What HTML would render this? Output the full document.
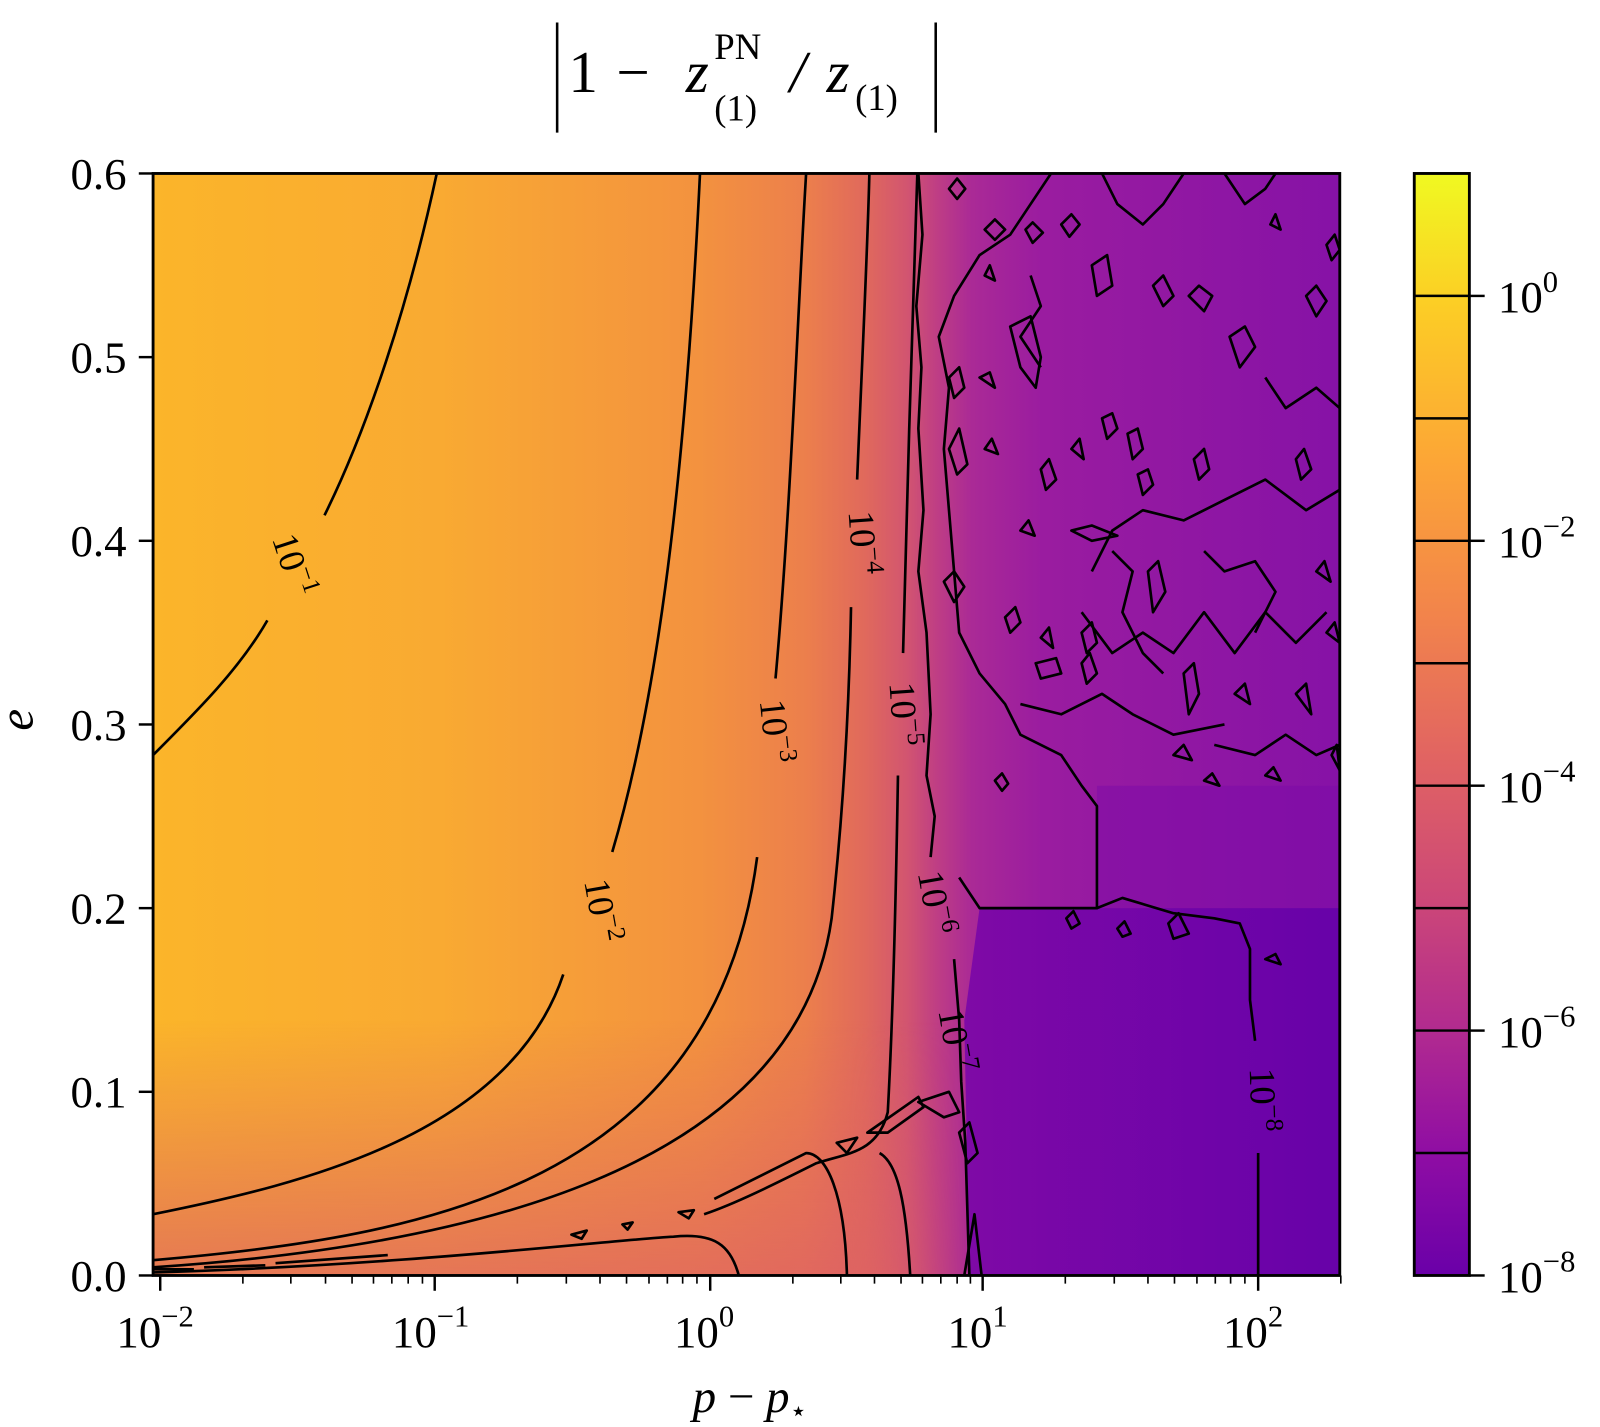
<!DOCTYPE html>
<html><head><meta charset="utf-8"><style>
html,body{margin:0;padding:0;background:#fff;}
svg{display:block;}
text{font-family:"Liberation Serif","DejaVu Serif",serif;fill:#000;}
</style></head><body>
<svg width="1600" height="1427" viewBox="0 0 1568 1398.5" xmlns="http://www.w3.org/2000/svg">
<defs>
<linearGradient id="bg" x1="150" y1="0" x2="1313" y2="0" gradientUnits="userSpaceOnUse">
<stop offset="0" stop-color="#fbb52a"/>
<stop offset="0.24" stop-color="#f9aa32"/>
<stop offset="0.46" stop-color="#f3923f"/>
<stop offset="0.55" stop-color="#ec7f4c"/>
<stop offset="0.6" stop-color="#e0695c"/>
<stop offset="0.635" stop-color="#d25570"/>
<stop offset="0.66" stop-color="#bf3e84"/>
<stop offset="0.69" stop-color="#aa2a96"/>
<stop offset="0.75" stop-color="#9a1ca0"/>
<stop offset="1" stop-color="#8612a6"/>
</linearGradient>
<linearGradient id="bot" x1="0" y1="1000" x2="0" y2="1250" gradientUnits="userSpaceOnUse">
<stop offset="0" stop-color="#dc5f66" stop-opacity="0"/>
<stop offset="1" stop-color="#dc5f66" stop-opacity="0.7"/>
</linearGradient>
<linearGradient id="botx" x1="150" y1="0" x2="950" y2="0" gradientUnits="userSpaceOnUse">
<stop offset="0" stop-color="#fff" stop-opacity="1"/>
<stop offset="0.85" stop-color="#fff" stop-opacity="1"/>
<stop offset="1" stop-color="#fff" stop-opacity="0"/>
</linearGradient>
<mask id="bm"><rect x="150" y="900" width="800" height="350" fill="url(#botx)"/></mask>
<linearGradient id="lr" x1="940" y1="0" x2="1313" y2="0" gradientUnits="userSpaceOnUse">
<stop offset="0" stop-color="#7a06a8"/>
<stop offset="1" stop-color="#6400a8"/>
</linearGradient>
<linearGradient id="cb" x1="0" y1="170" x2="0" y2="1250" gradientUnits="userSpaceOnUse">
<stop offset="0" stop-color="#f0f921"/>
<stop offset="0.12" stop-color="#fccd25"/>
<stop offset="0.26" stop-color="#fca636"/>
<stop offset="0.4" stop-color="#f2844b"/>
<stop offset="0.53" stop-color="#e16462"/>
<stop offset="0.66" stop-color="#cc4778"/>
<stop offset="0.78" stop-color="#b12a90"/>
<stop offset="0.89" stop-color="#8f0da4"/>
<stop offset="1" stop-color="#6a00a8"/>
</linearGradient>
<clipPath id="pc"><rect x="150" y="170" width="1163" height="1080"/></clipPath>
</defs>

<!-- title -->
<line x1="546" y1="22" x2="546" y2="130" stroke="#000" stroke-width="2.5"/>
<line x1="917" y1="22" x2="917" y2="130" stroke="#000" stroke-width="2.5"/>
<text x="557" y="90" font-size="58">1</text>
<text x="604" y="90" font-size="58">−</text>
<text x="672" y="90" font-size="58" font-style="italic">z</text>
<text x="700" y="58" font-size="36">PN</text>
<text x="700" y="118" font-size="36">(1)</text>
<text x="774" y="90" font-size="58" font-style="italic">/</text>
<text x="810" y="90" font-size="58" font-style="italic">z</text>
<text x="838" y="108" font-size="36">(1)</text>

<!-- plot background -->
<g clip-path="url(#pc)">
<rect x="150" y="170" width="1163" height="1080" fill="url(#bg)"/>
<rect x="150" y="900" width="800" height="350" fill="url(#bot)" mask="url(#bm)"/>
<path d="M1075,770 L1313,770 L1313,890 L1075,890 Z" fill="#7c0aa8" opacity="0.5"/>
<path d="M960,890 L1313,890 L1313,1250 L950,1250 L945,1000 Z" fill="url(#lr)" opacity="0.9"/>

<g fill="none" stroke="#000" stroke-width="2.6" stroke-linejoin="round">
<!-- 1e-1 -->
<path d="M150,740 C195,695 235,655 262,608"/>
<path d="M318,505 C360,420 400,300 428,170"/>
<!-- 1e-2 -->
<path d="M150,1190 C300,1160 500,1110 552,955"/>
<path d="M600,835 C640,700 670,500 686,170"/>
<!-- 1e-3 -->
<path d="M150,1235 C420,1212 700,1160 742,840"/>
<path d="M760,665 C775,500 782,300 790,170"/>
<!-- 1e-4 -->
<path d="M150,1242 C450,1222 780,1150 815,900 C826,800 832,700 834,595"/>
<path d="M840,470 C845,350 850,250 852,170"/>
<!-- 1e-5 -->
<path d="M899,170 C895,300 888,500 885,640"/>
<path d="M880,760 C878,880 875,1000 870,1090 C860,1130 830,1130 800,1140 C760,1160 720,1180 690,1190"/>
<path d="M892,1250 C888,1180 880,1140 862,1130"/>
<!-- lower branches -->
<path d="M150,1247 C400,1240 600,1215 660,1212 C700,1208 716,1220 724,1250"/>
<path d="M830,1250 C828,1170 810,1130 790,1130 L700,1175"/>
<path d="M150,1244 L190,1244 M200,1242 L260,1240 M270,1238 L380,1230"/>
<!-- 1e-6 jagged -->
<path d="M900,170 L904,230 L898,300 L903,360 L900,420 L905,500 L900,560 L908,620 L912,700 L908,760 L916,800 L912,840"/>
<path d="M935,940 L940,1000 L942,1060 L946,1120 L950,1250"/>
<path d="M945,1250 L955,1190 L962,1250"/>
<path d="M940,860 L960,890 L1075,890 L1075,790 L1060,770 L1040,740 L1000,720 L985,690 L960,660 L940,620 L935,560 L930,500 L925,440 L930,380 L920,330 L935,290 L960,250 L990,230 L1010,200 L1030,170"/>
<path d="M1075,890 L1100,880 L1150,895 L1190,900 L1215,905 L1225,930 L1225,980 L1230,1020"/>
<path d="M1233,1130 L1233,1250"/>
<path d="M1080,170 L1095,200 L1120,220 L1140,200 L1160,170"/>
<path d="M1200,170 L1220,200 L1240,185 L1250,170"/>
<path d="M1070,560 L1090,520 L1120,500 L1160,510 L1200,490 L1240,470 L1280,500 L1313,480"/>
<path d="M1060,600 L1090,640 L1120,620 L1150,640 L1180,600 L1210,640 L1240,600 L1270,630 L1300,600"/>
<path d="M1000,690 L1040,700 L1080,680 L1110,700 L1150,720 L1200,710"/>
<path d="M1190,730 L1230,740 L1260,720 L1290,740 L1313,730"/>
<path d="M1240,370 L1260,400 L1290,380 L1313,400"/>
<path d="M1090,540 L1110,560 L1100,600 L1120,640 L1140,660"/>
<path d="M1180,540 L1200,560 L1230,550 L1250,580 L1230,620"/>
<path d="M1010,270 L1020,300 L1000,330 L1020,360"/>
<path d="M900,1080 L930,1070 L940,1090 L925,1095 Z"/>
<path d="M850,1110 L900,1075 L905,1085 L870,1110 Z"/>
<path d="M820,1120 L840,1115 L830,1130 Z"/>
<g>
<path d="M930,185 L938,175 L946,185 L938,195 Z"/>
<path d="M965,225 L975,215 L985,225 L975,235 Z"/>
<path d="M1005,225 L1012,218 L1022,228 L1012,238 Z"/>
<path d="M1040,220 L1050,210 L1058,220 L1048,232 Z"/>
<path d="M990,320 L1010,310 L1020,350 L1015,380 L1000,360 Z"/>
<path d="M1070,260 L1085,250 L1090,280 L1075,290 Z"/>
<path d="M1130,280 L1140,270 L1150,290 L1140,300 Z"/>
<path d="M1165,290 L1175,280 L1188,290 L1180,305 Z"/>
<path d="M1205,330 L1220,320 L1230,340 L1215,360 Z"/>
<path d="M1280,290 L1290,280 L1300,295 L1290,310 Z"/>
<path d="M1245,220 L1250,210 L1255,225 Z"/>
<path d="M1300,240 L1308,230 L1313,245 L1305,255 Z"/>
<path d="M965,270 L970,260 L975,275 Z"/>
<path d="M930,370 L940,360 L945,380 L935,390 Z"/>
<path d="M960,370 L970,365 L975,380 Z"/>
<path d="M930,440 L940,420 L948,455 L938,465 Z"/>
<path d="M965,440 L972,430 L978,445 Z"/>
<path d="M1020,460 L1028,450 L1035,470 L1025,480 Z"/>
<path d="M1050,440 L1058,430 L1062,450 Z"/>
<path d="M1080,410 L1090,405 L1095,420 L1085,430 Z"/>
<path d="M1105,425 L1115,420 L1120,440 L1110,450 Z"/>
<path d="M1115,465 L1125,460 L1130,475 L1120,485 Z"/>
<path d="M1170,450 L1180,440 L1185,460 L1175,470 Z"/>
<path d="M1270,450 L1278,440 L1285,460 L1275,470 Z"/>
<path d="M1050,520 L1070,515 L1095,525 L1070,530 Z"/>
<path d="M925,570 L935,560 L945,575 L935,590 Z"/>
<path d="M985,605 L995,595 L1000,610 L990,620 Z"/>
<path d="M1020,625 L1028,615 L1032,635 Z"/>
<path d="M1060,620 L1070,610 L1075,630 L1065,640 Z"/>
<path d="M1125,560 L1135,550 L1142,580 L1130,600 Z"/>
<path d="M1015,650 L1035,645 L1040,660 L1020,665 Z"/>
<path d="M1060,650 L1068,640 L1075,660 L1065,670 Z"/>
<path d="M1160,660 L1170,650 L1175,680 L1165,700 Z"/>
<path d="M1210,680 L1220,670 L1225,690 Z"/>
<path d="M1270,680 L1280,670 L1285,700 Z"/>
<path d="M1300,620 L1308,610 L1313,630 Z"/>
<path d="M975,765 L982,758 L988,768 L982,775 Z"/>
<path d="M1180,765 L1188,758 L1195,770 Z"/>
<path d="M1240,760 L1248,752 L1255,765 Z"/>
<path d="M1305,740 L1310,730 L1313,755 Z"/>
<path d="M1045,900 L1052,893 L1058,905 L1050,910 Z"/>
<path d="M1095,910 L1102,903 L1108,915 L1100,918 Z"/>
<path d="M1145,905 L1155,895 L1165,915 L1150,920 Z"/>
<path d="M1240,940 L1250,935 L1255,945 Z"/>
<path d="M940,1110 L950,1100 L958,1130 L948,1140 Z"/>
<path d="M610,1200 L620,1198 L615,1205 Z"/>
<path d="M560,1210 L575,1206 L570,1214 Z"/>
<path d="M665,1188 L680,1186 L675,1194 Z"/>
<path d="M1000,520 L1008,510 L1014,525 Z"/>
<path d="M1150,740 L1160,730 L1168,745 Z"/>
<path d="M1290,560 L1298,550 L1304,570 Z"/>
</g>
</g>

<g font-size="36">
<text transform="translate(284,555) rotate(72)" text-anchor="middle" dominant-baseline="middle">10<tspan dy="-12" font-size="25">−1</tspan></text>
<text transform="translate(586,893) rotate(80)" text-anchor="middle" dominant-baseline="middle">10<tspan dy="-12" font-size="25">−2</tspan></text>
<text transform="translate(756,717) rotate(84)" text-anchor="middle" dominant-baseline="middle">10<tspan dy="-12" font-size="25">−3</tspan></text>
<text transform="translate(842,532) rotate(86)" text-anchor="middle" dominant-baseline="middle">10<tspan dy="-12" font-size="25">−4</tspan></text>
<text transform="translate(882,700) rotate(86)" text-anchor="middle" dominant-baseline="middle">10<tspan dy="-12" font-size="25">−5</tspan></text>
<text transform="translate(913,885) rotate(80)" text-anchor="middle" dominant-baseline="middle">10<tspan dy="-12" font-size="25">−6</tspan></text>
<text transform="translate(933,1020) rotate(80)" text-anchor="middle" dominant-baseline="middle">10<tspan dy="-12" font-size="25">−7</tspan></text>
<text transform="translate(1234,1078) rotate(88)" text-anchor="middle" dominant-baseline="middle">10<tspan dy="-12" font-size="25">−8</tspan></text>
</g>
</g>

<rect x="150" y="170" width="1163" height="1080" fill="none" stroke="#000" stroke-width="2.8"/>

<g stroke="#000" stroke-width="2.4">
<line x1="157" y1="1250" x2="157" y2="1265"/>
<line x1="426" y1="1250" x2="426" y2="1265"/>
<line x1="696" y1="1250" x2="696" y2="1265"/>
<line x1="963" y1="1250" x2="963" y2="1265"/>
<line x1="1233" y1="1250" x2="1233" y2="1265"/>
</g>
<g stroke="#000" stroke-width="1.6">
<line x1="238" y1="1250" x2="238" y2="1258"/><line x1="285" y1="1250" x2="285" y2="1258"/><line x1="319" y1="1250" x2="319" y2="1258"/><line x1="345" y1="1250" x2="345" y2="1258"/><line x1="366" y1="1250" x2="366" y2="1258"/><line x1="384" y1="1250" x2="384" y2="1258"/><line x1="400" y1="1250" x2="400" y2="1258"/><line x1="414" y1="1250" x2="414" y2="1258"/>
<line x1="507" y1="1250" x2="507" y2="1258"/><line x1="555" y1="1250" x2="555" y2="1258"/><line x1="588" y1="1250" x2="588" y2="1258"/><line x1="614" y1="1250" x2="614" y2="1258"/><line x1="636" y1="1250" x2="636" y2="1258"/><line x1="654" y1="1250" x2="654" y2="1258"/><line x1="669" y1="1250" x2="669" y2="1258"/><line x1="683" y1="1250" x2="683" y2="1258"/>
<line x1="777" y1="1250" x2="777" y2="1258"/><line x1="824" y1="1250" x2="824" y2="1258"/><line x1="857" y1="1250" x2="857" y2="1258"/><line x1="883" y1="1250" x2="883" y2="1258"/><line x1="904" y1="1250" x2="904" y2="1258"/><line x1="922" y1="1250" x2="922" y2="1258"/><line x1="938" y1="1250" x2="938" y2="1258"/><line x1="951" y1="1250" x2="951" y2="1258"/>
<line x1="1044" y1="1250" x2="1044" y2="1258"/><line x1="1092" y1="1250" x2="1092" y2="1258"/><line x1="1125" y1="1250" x2="1125" y2="1258"/><line x1="1151" y1="1250" x2="1151" y2="1258"/><line x1="1173" y1="1250" x2="1173" y2="1258"/><line x1="1191" y1="1250" x2="1191" y2="1258"/><line x1="1206" y1="1250" x2="1206" y2="1258"/><line x1="1220" y1="1250" x2="1220" y2="1258"/>
<line x1="1314" y1="1250" x2="1314" y2="1258"/>
</g>
<g font-size="44" text-anchor="middle">
<text x="152" y="1320">10<tspan dy="-20" font-size="30">−2</tspan></text>
<text x="422" y="1320">10<tspan dy="-20" font-size="30">−1</tspan></text>
<text x="690" y="1320">10<tspan dy="-20" font-size="30">0</tspan></text>
<text x="958" y="1320">10<tspan dy="-20" font-size="30">1</tspan></text>
<text x="1228" y="1320">10<tspan dy="-20" font-size="30">2</tspan></text>
</g>
<text x="735" y="1384" font-size="46" text-anchor="middle" font-style="italic">p <tspan font-style="normal">−</tspan> p<tspan dy="8" font-size="28" font-style="normal">⋆</tspan></text>

<g stroke="#000" stroke-width="2.4">
<line x1="136" y1="170" x2="150" y2="170"/><line x1="136" y1="350" x2="150" y2="350"/><line x1="136" y1="530" x2="150" y2="530"/><line x1="136" y1="710" x2="150" y2="710"/><line x1="136" y1="890" x2="150" y2="890"/><line x1="136" y1="1070" x2="150" y2="1070"/><line x1="136" y1="1250" x2="150" y2="1250"/>
</g>
<g font-size="44" text-anchor="end">
<text x="124" y="185">0.6</text><text x="124" y="365">0.5</text><text x="124" y="545">0.4</text><text x="124" y="725">0.3</text><text x="124" y="905">0.2</text><text x="124" y="1085">0.1</text><text x="124" y="1265">0.0</text>
</g>
<text x="20" y="712" font-size="48" font-style="italic" transform="rotate(-90 28 708)">e</text>

<rect x="1386" y="170" width="54" height="1080" fill="url(#cb)"/>
<g stroke="#000" stroke-width="2.4">
<line x1="1386" y1="290" x2="1440" y2="290"/><line x1="1386" y1="410" x2="1440" y2="410"/><line x1="1386" y1="530" x2="1440" y2="530"/><line x1="1386" y1="650" x2="1440" y2="650"/><line x1="1386" y1="770" x2="1440" y2="770"/><line x1="1386" y1="890" x2="1440" y2="890"/><line x1="1386" y1="1010" x2="1440" y2="1010"/><line x1="1386" y1="1130" x2="1440" y2="1130"/>
<line x1="1440" y1="290" x2="1455" y2="290"/><line x1="1440" y1="530" x2="1455" y2="530"/><line x1="1440" y1="770" x2="1455" y2="770"/><line x1="1440" y1="1010" x2="1455" y2="1010"/><line x1="1440" y1="1250" x2="1455" y2="1250"/>
</g>
<rect x="1386" y="170" width="54" height="1080" fill="none" stroke="#000" stroke-width="2.8"/>
<g font-size="44">
<text x="1468" y="306">10<tspan dy="-20" font-size="30">0</tspan></text>
<text x="1468" y="546">10<tspan dy="-20" font-size="30">−2</tspan></text>
<text x="1468" y="786">10<tspan dy="-20" font-size="30">−4</tspan></text>
<text x="1468" y="1026">10<tspan dy="-20" font-size="30">−6</tspan></text>
<text x="1468" y="1266">10<tspan dy="-20" font-size="30">−8</tspan></text>
</g>
</svg>
</body></html>
